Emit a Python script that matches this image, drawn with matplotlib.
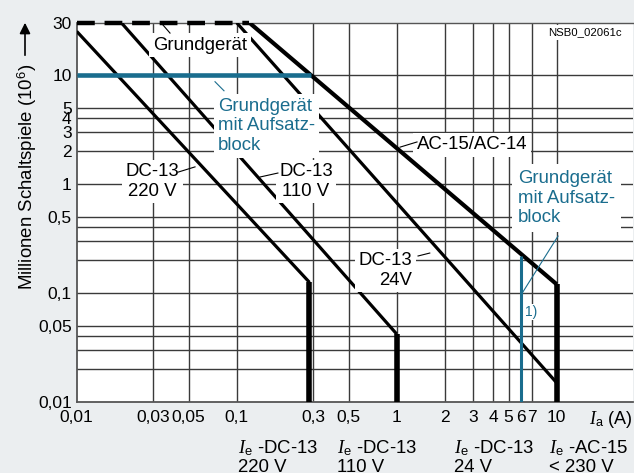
import matplotlib
matplotlib.use("Agg")
import matplotlib.pyplot as plt

# --- DATA ---
x_ticks = [0.01, 0.03, 0.05, 0.1, 0.3, 0.5, 1, 2, 3, 4, 5, 6, 7, 10]
x_tick_labels = ["0,01", "0,03", "0,05", "0,1", "0,3", "0,5", "1", "2", "3", "4", "5", "6", "7", "10"]
x_grid = [0.03, 0.05, 0.1, 0.3, 0.5, 1, 2, 3, 4, 5, 7, 10]
y_ticks = [0.01, 0.05, 0.1, 0.5, 1, 2, 3, 4, 5, 10, 30]
y_tick_labels = ["0,01", "0,05", "0,1", "0,5", "1", "2", "3", "4", "5", "10", "30"]
y_grid = [0.02, 0.03, 0.04, 0.05, 0.1, 0.2, 0.3, 0.4, 0.5, 1, 2, 3, 4, 5, 10]

# switching curves: current (A) -> million operations
dc220_x = [0.01, 0.285]
dc220_y = [25, 0.125]
dc110_x = [0.019, 1.0]
dc110_y = [30, 0.042]
dc24_x = [0.1, 10]
dc24_y = [30, 0.015]
ac_x = [0.12, 10]
ac_y = [30, 0.12]

# cut-off at rated current Ie
cut_x = [0.285, 1.0, 10]
cut_top = [0.125, 0.042, 0.12]

# basic unit (dashed limit) / basic unit with add-on block (blue)
basic_x = [0.01, 0.12]
basic_y = [30, 30]
addon_x = [0.01, 0.29]
addon_y = [10, 10]
addon_ac_x = [6, 6]
addon_ac_y = [0.01, 0.22]

BLUE = '#1a6d8e'
GRID = '#3a3a3a'
BG = '#ebeef0'

plt.rcParams['font.family'] = ['Liberation Sans', 'DejaVu Sans']
plt.rcParams['mathtext.fontset'] = 'custom'
plt.rcParams['mathtext.it'] = 'Liberation Serif:italic'
plt.rcParams['mathtext.rm'] = 'Liberation Sans'
plt.rcParams['mathtext.sf'] = 'Liberation Sans'

fig = plt.figure(figsize=(6.34, 4.73), dpi=100, facecolor=BG)
ax = fig.add_axes([76.7 / 634, 1 - 402 / 473, (633 - 76.7) / 634, (402 - 22.7) / 473])
ax.set_xscale('log')
ax.set_yscale('log')
ax.set_xlim(0.01, 30)
ax.set_ylim(0.01, 30)

# grid
for gx in x_grid:
    ax.axvline(gx, color=GRID, lw=1.0, zorder=1)
for gy in y_grid:
    ax.axhline(gy, color=GRID, lw=1.0, zorder=1)

# curves
ax.plot(dc220_x, dc220_y, color='black', lw=2.3, zorder=3, solid_capstyle='butt')
ax.plot(dc110_x, dc110_y, color='black', lw=2.3, zorder=3, solid_capstyle='butt')
ax.plot(dc24_x, dc24_y, color='black', lw=2.3, zorder=3, solid_capstyle='butt')
ax.plot(ac_x, ac_y, color='black', lw=3.0, zorder=3, solid_capstyle='butt')
for cx, ct in zip(cut_x, cut_top):
    ax.plot([cx, cx], [0.01, ct], color='black', lw=4.0, zorder=3, solid_capstyle='butt')

ax.plot(basic_x, basic_y, color='black', lw=3.2, dashes=(4, 2.2), zorder=6, clip_on=False)
ax.plot(addon_x, addon_y, color=BLUE, lw=3.3, zorder=3, solid_capstyle='butt')
ax.plot(addon_ac_x, addon_ac_y, color=BLUE, lw=2.2, zorder=3, solid_capstyle='butt')

# ticks
ax.set_xticks(x_ticks)
ax.set_xticklabels(x_tick_labels)
ax.set_yticks(y_ticks)
ax.set_yticklabels(y_tick_labels)
ax.minorticks_off()
ax.tick_params(axis='x', length=0, pad=5.5, labelsize=12.5)
ax.tick_params(axis='y', length=0, pad=3.6, labelsize=12.5)

for side in ['left', 'bottom', 'top']:
    ax.spines[side].set_color('#555555')
    ax.spines[side].set_linewidth(1.3)
ax.spines['top'].set_linewidth(1.0)
ax.spines['right'].set_visible(False)

box = dict(facecolor='white', edgecolor='none', pad=2.5)
lab = dict(fontsize=13.4, zorder=5, bbox=box)

# labels in the plot
ax.text(0.059, 18.7, 'Grundgerät', ha='center', va='center', **lab)
ax.plot([0.0346, 0.0383], [28.6, 24.1], color='black', lw=0.8, zorder=6)

ax.text(0.0764, 3.39, 'Grundgerät\nmit Aufsatz-\nblock', ha='left', va='center', color=BLUE, **lab)
ax.plot([0.0732, 0.0833], [8.63, 7.13], color=BLUE, lw=0.8, zorder=6)

ax.text(0.0296, 1.05, 'DC-13\n220 V', ha='center', va='center', multialignment='center', **lab)
ax.plot([0.043, 0.0549], [1.28, 1.43], color='black', lw=0.8, zorder=6)

ax.text(0.271, 1.05, 'DC-13\n110 V', ha='center', va='center', multialignment='center', **lab)
ax.plot([0.140, 0.181], [1.155, 1.256], color='black', lw=0.8, zorder=6)

ax.text(1.247, 0.160, 'DC-13\n24V', ha='right', va='center', multialignment='right', **lab)
ax.plot([1.36, 1.61], [0.218, 0.232], color='black', lw=0.8, zorder=6)

ax.text(2.96, 2.29, 'AC-15/AC-14', ha='center', va='center', **lab)
ax.plot([1.05, 1.34], [2.17, 2.42], color='black', lw=0.8, zorder=6)

ax.text(5.73, 0.741, 'Grundgerät\nmit Aufsatz-\nblock', ha='left', va='center', color=BLUE,
        fontsize=13.4, zorder=5, bbox=dict(facecolor='white', edgecolor='none', pad=4.5))
ax.plot([6.15, 10.2], [0.102, 0.332], color=BLUE, lw=0.8, zorder=6)

ax.text(6.96, 0.0668, '1)', ha='center', va='center', color=BLUE, fontsize=10, zorder=5,
        bbox=dict(facecolor='white', edgecolor='none', pad=1))
ax.text(15.0, 24.4, 'NSB0_02061c', ha='center', va='center', fontsize=8.2, zorder=5,
        bbox=dict(facecolor='white', edgecolor='none', pad=1.5))

# axis titles
fig.text(27 / 634, 1 - 177 / 473, 'Millionen Schaltspiele (10$^{6}$)', rotation=90,
         ha='center', va='center', fontsize=13.4)
ax.annotate('', xy=(25, 473 - 20), xytext=(25, 473 - 58), xycoords='figure pixels',
            textcoords='figure pixels',
            arrowprops=dict(arrowstyle='-|>', color='black', lw=1.2, mutation_scale=16))
fig.text(632 / 634, 1 - 419 / 473, r'$I_{\mathrm{a}}$ (A)', ha='right', va='center', fontsize=13)

# rated currents under the axis
ie_labels = [r'$I_{\mathrm{e}}$ -DC-13' + '\n220 V', r'$I_{\mathrm{e}}$ -DC-13' + '\n110 V',
             r'$I_{\mathrm{e}}$ -DC-13' + '\n24 V', r'$I_{\mathrm{e}}$ -AC-15' + '\n< 230 V']
ie_pos = [238, 337, 454, 549]
for px, txt in zip(ie_pos, ie_labels):
    fig.text(px / 634, 1 - 438 / 473, txt, ha='left', va='top', fontsize=13.4, linespacing=1.1)

fig.savefig('out.png', dpi=100, facecolor=BG)
